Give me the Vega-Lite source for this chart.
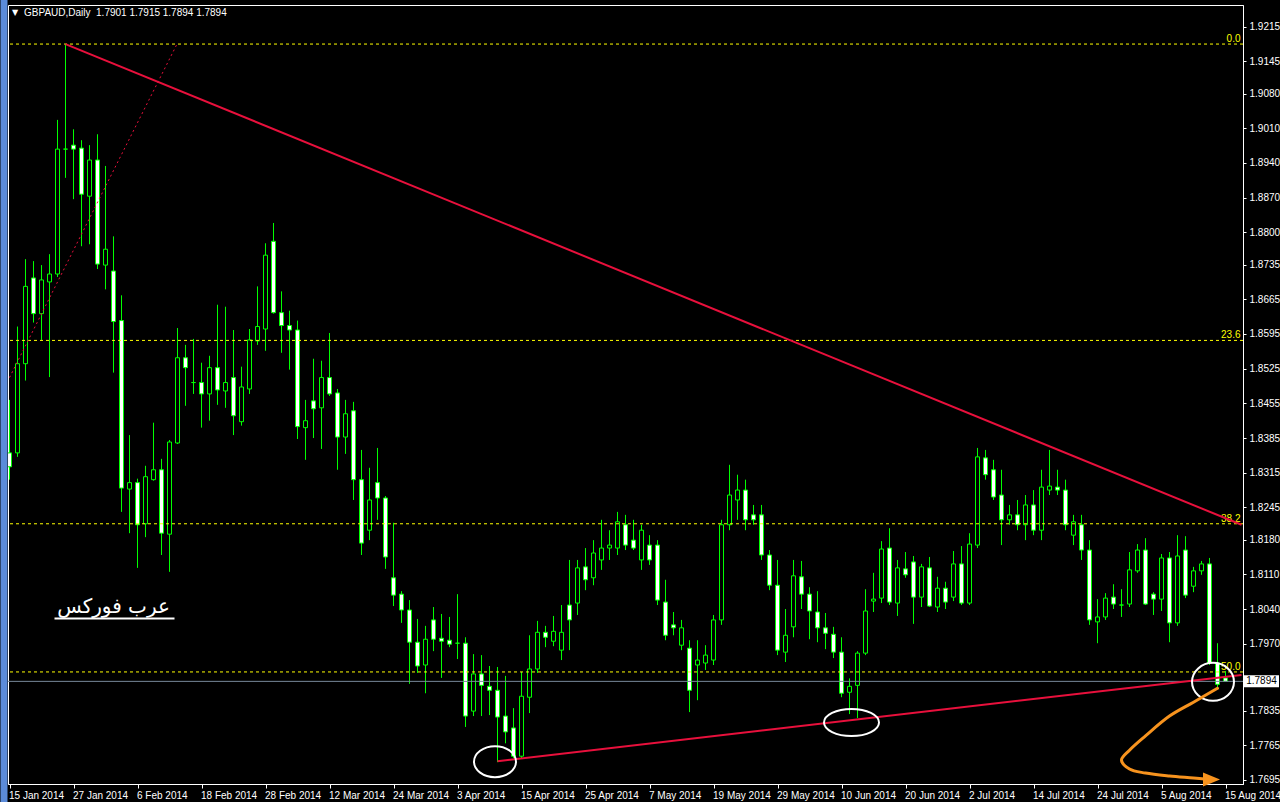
{
"$schema":"https://vega.github.io/schema/vega-lite/v6.json",
"width":1235,"height":779,
"autosize":{"type":"none"},
"padding":{"left":8,"top":5,"right":37,"bottom":18},
"background":"#000000",
"config":{"view":{"stroke":"#ffffff","strokeWidth":1,"fill":"#000000"},"font":"Liberation Sans",
"axis":{"labelFont":"Liberation Sans","labelFontSize":10,"labelColor":"#ffffff","tickColor":"#ffffff","domainColor":"#ffffff","grid":false,"title":null,"labelOverlap":false}},
"data":{"values":[
{"d":"15 Jan 2014","o":1.8355,"h":1.8462,"l":1.8301,"c":1.8327},
{"d":"16 Jan 2014","o":1.8355,"h":1.8610,"l":1.8347,"c":1.8535},
{"d":"17 Jan 2014","o":1.8535,"h":1.8746,"l":1.8501,"c":1.8691},
{"d":"20 Jan 2014","o":1.8708,"h":1.8742,"l":1.8618,"c":1.8636},
{"d":"21 Jan 2014","o":1.8636,"h":1.8734,"l":1.8583,"c":1.8704},
{"d":"22 Jan 2014","o":1.8700,"h":1.8756,"l":1.8508,"c":1.8716},
{"d":"23 Jan 2014","o":1.8716,"h":1.9027,"l":1.8710,"c":1.8968},
{"d":"24 Jan 2014","o":1.8968,"h":1.9180,"l":1.8910,"c":1.8968},
{"d":"27 Jan 2014","o":1.8976,"h":1.9008,"l":1.8867,"c":1.8968},
{"d":"28 Jan 2014","o":1.8970,"h":1.8986,"l":1.8772,"c":1.8877},
{"d":"29 Jan 2014","o":1.8873,"h":1.8976,"l":1.8776,"c":1.8946},
{"d":"30 Jan 2014","o":1.8946,"h":1.8998,"l":1.8726,"c":1.8736},
{"d":"31 Jan 2014","o":1.8734,"h":1.8934,"l":1.8685,"c":1.8766},
{"d":"3 Feb 2014","o":1.8722,"h":1.8792,"l":1.8517,"c":1.8620},
{"d":"4 Feb 2014","o":1.8622,"h":1.8673,"l":1.8236,"c":1.8284},
{"d":"5 Feb 2014","o":1.8282,"h":1.8391,"l":1.8193,"c":1.8295},
{"d":"6 Feb 2014","o":1.8295,"h":1.8303,"l":1.8123,"c":1.8210},
{"d":"7 Feb 2014","o":1.8212,"h":1.8329,"l":1.8185,"c":1.8307},
{"d":"10 Feb 2014","o":1.8301,"h":1.8416,"l":1.8299,"c":1.8321},
{"d":"11 Feb 2014","o":1.8321,"h":1.8343,"l":1.8149,"c":1.8193},
{"d":"12 Feb 2014","o":1.8191,"h":1.8381,"l":1.8115,"c":1.8377},
{"d":"13 Feb 2014","o":1.8375,"h":1.8607,"l":1.8373,"c":1.8547},
{"d":"14 Feb 2014","o":1.8547,"h":1.8573,"l":1.8450,"c":1.8527},
{"d":"17 Feb 2014","o":1.8497,"h":1.8585,"l":1.8474,"c":1.8497},
{"d":"18 Feb 2014","o":1.8497,"h":1.8537,"l":1.8406,"c":1.8474},
{"d":"19 Feb 2014","o":1.8474,"h":1.8551,"l":1.8420,"c":1.8527},
{"d":"20 Feb 2014","o":1.8527,"h":1.8654,"l":1.8452,"c":1.8482},
{"d":"21 Feb 2014","o":1.8480,"h":1.8650,"l":1.8446,"c":1.8497},
{"d":"24 Feb 2014","o":1.8507,"h":1.8603,"l":1.8391,"c":1.8430},
{"d":"25 Feb 2014","o":1.8418,"h":1.8529,"l":1.8410,"c":1.8488},
{"d":"26 Feb 2014","o":1.8484,"h":1.8605,"l":1.8474,"c":1.8583},
{"d":"27 Feb 2014","o":1.8581,"h":1.8691,"l":1.8573,"c":1.8610},
{"d":"28 Feb 2014","o":1.8605,"h":1.8778,"l":1.8561,"c":1.8754},
{"d":"3 Mar 2014","o":1.8782,"h":1.8819,"l":1.8636,"c":1.8638},
{"d":"4 Mar 2014","o":1.8638,"h":1.8681,"l":1.8557,"c":1.8612},
{"d":"5 Mar 2014","o":1.8612,"h":1.8642,"l":1.8523,"c":1.8603},
{"d":"6 Mar 2014","o":1.8603,"h":1.8622,"l":1.8383,"c":1.8408},
{"d":"7 Mar 2014","o":1.8406,"h":1.8462,"l":1.8341,"c":1.8420},
{"d":"10 Mar 2014","o":1.8460,"h":1.8545,"l":1.8385,"c":1.8444},
{"d":"11 Mar 2014","o":1.8446,"h":1.8541,"l":1.8363,"c":1.8507},
{"d":"12 Mar 2014","o":1.8507,"h":1.8597,"l":1.8470,"c":1.8474},
{"d":"13 Mar 2014","o":1.8476,"h":1.8484,"l":1.8321,"c":1.8387},
{"d":"14 Mar 2014","o":1.8387,"h":1.8462,"l":1.8353,"c":1.8434},
{"d":"17 Mar 2014","o":1.8440,"h":1.8458,"l":1.8260,"c":1.8301},
{"d":"18 Mar 2014","o":1.8301,"h":1.8361,"l":1.8149,"c":1.8173},
{"d":"19 Mar 2014","o":1.8199,"h":1.8325,"l":1.8179,"c":1.8260},
{"d":"20 Mar 2014","o":1.8295,"h":1.8365,"l":1.8220,"c":1.8264},
{"d":"21 Mar 2014","o":1.8264,"h":1.8268,"l":1.8121,"c":1.8145},
{"d":"24 Mar 2014","o":1.8103,"h":1.8214,"l":1.8046,"c":1.8068},
{"d":"25 Mar 2014","o":1.8070,"h":1.8076,"l":1.8012,"c":1.8038},
{"d":"26 Mar 2014","o":1.8038,"h":1.8058,"l":1.7889,"c":1.7973},
{"d":"27 Mar 2014","o":1.7973,"h":1.8020,"l":1.7911,"c":1.7925},
{"d":"28 Mar 2014","o":1.7927,"h":1.8006,"l":1.7870,"c":1.7979},
{"d":"31 Mar 2014","o":1.8018,"h":1.8044,"l":1.7955,"c":1.7979},
{"d":"1 Apr 2014","o":1.7981,"h":1.8030,"l":1.7901,"c":1.7975},
{"d":"2 Apr 2014","o":1.7977,"h":1.8024,"l":1.7963,"c":1.7969},
{"d":"3 Apr 2014","o":1.7971,"h":1.8070,"l":1.7939,"c":1.7971},
{"d":"4 Apr 2014","o":1.7971,"h":1.7983,"l":1.7802,"c":1.7824},
{"d":"7 Apr 2014","o":1.7834,"h":1.7949,"l":1.7824,"c":1.7909},
{"d":"8 Apr 2014","o":1.7909,"h":1.7947,"l":1.7824,"c":1.7886},
{"d":"9 Apr 2014","o":1.7884,"h":1.7925,"l":1.7826,"c":1.7876},
{"d":"10 Apr 2014","o":1.7876,"h":1.7923,"l":1.7731,"c":1.7822},
{"d":"11 Apr 2014","o":1.7824,"h":1.7905,"l":1.7769,"c":1.7792},
{"d":"14 Apr 2014","o":1.7800,"h":1.7840,"l":1.7739,"c":1.7743},
{"d":"15 Apr 2014","o":1.7743,"h":1.7913,"l":1.7739,"c":1.7864},
{"d":"16 Apr 2014","o":1.7862,"h":1.7987,"l":1.7830,"c":1.7919},
{"d":"17 Apr 2014","o":1.7919,"h":1.8016,"l":1.7911,"c":1.7993},
{"d":"18 Apr 2014","o":1.7993,"h":1.8006,"l":1.7963,"c":1.7983},
{"d":"21 Apr 2014","o":1.7975,"h":1.8026,"l":1.7965,"c":1.7995},
{"d":"22 Apr 2014","o":1.7957,"h":1.8048,"l":1.7937,"c":1.7993},
{"d":"23 Apr 2014","o":1.8048,"h":1.8139,"l":1.7957,"c":1.8018},
{"d":"24 Apr 2014","o":1.8052,"h":1.8139,"l":1.8028,"c":1.8123},
{"d":"25 Apr 2014","o":1.8125,"h":1.8163,"l":1.8078,"c":1.8099},
{"d":"28 Apr 2014","o":1.8103,"h":1.8179,"l":1.8088,"c":1.8153},
{"d":"29 Apr 2014","o":1.8139,"h":1.8220,"l":1.8119,"c":1.8163},
{"d":"30 Apr 2014","o":1.8163,"h":1.8199,"l":1.8139,"c":1.8169},
{"d":"1 May 2014","o":1.8163,"h":1.8236,"l":1.8149,"c":1.8216},
{"d":"2 May 2014","o":1.8210,"h":1.8230,"l":1.8159,"c":1.8169},
{"d":"5 May 2014","o":1.8179,"h":1.8220,"l":1.8159,"c":1.8163},
{"d":"6 May 2014","o":1.8139,"h":1.8210,"l":1.8119,"c":1.8199},
{"d":"7 May 2014","o":1.8169,"h":1.8189,"l":1.8129,"c":1.8139},
{"d":"8 May 2014","o":1.8169,"h":1.8179,"l":1.8048,"c":1.8058},
{"d":"9 May 2014","o":1.8054,"h":1.8099,"l":1.7977,"c":1.7987},
{"d":"12 May 2014","o":1.8008,"h":1.8034,"l":1.7987,"c":1.8002},
{"d":"13 May 2014","o":1.7967,"h":1.8018,"l":1.7957,"c":1.8002},
{"d":"14 May 2014","o":1.7961,"h":1.7977,"l":1.7832,"c":1.7876},
{"d":"15 May 2014","o":1.7927,"h":1.7977,"l":1.7856,"c":1.7937},
{"d":"16 May 2014","o":1.7931,"h":1.7967,"l":1.7917,"c":1.7947},
{"d":"19 May 2014","o":1.7937,"h":1.8028,"l":1.7927,"c":1.8018},
{"d":"20 May 2014","o":1.8018,"h":1.8220,"l":1.8008,"c":1.8210},
{"d":"21 May 2014","o":1.8210,"h":1.8331,"l":1.8199,"c":1.8270},
{"d":"22 May 2014","o":1.8260,"h":1.8311,"l":1.8220,"c":1.8280},
{"d":"23 May 2014","o":1.8280,"h":1.8301,"l":1.8199,"c":1.8220},
{"d":"26 May 2014","o":1.8230,"h":1.8250,"l":1.8210,"c":1.8220},
{"d":"27 May 2014","o":1.8230,"h":1.8250,"l":1.8139,"c":1.8149},
{"d":"28 May 2014","o":1.8149,"h":1.8159,"l":1.8078,"c":1.8088},
{"d":"29 May 2014","o":1.8088,"h":1.8139,"l":1.7947,"c":1.7957},
{"d":"30 May 2014","o":1.7953,"h":1.8040,"l":1.7933,"c":1.7987},
{"d":"2 Jun 2014","o":1.8004,"h":1.8139,"l":1.7983,"c":1.8107},
{"d":"3 Jun 2014","o":1.8105,"h":1.8137,"l":1.8040,"c":1.8070},
{"d":"4 Jun 2014","o":1.8070,"h":1.8084,"l":1.7979,"c":1.8036},
{"d":"5 Jun 2014","o":1.8034,"h":1.8076,"l":1.7973,"c":1.8002},
{"d":"6 Jun 2014","o":1.8002,"h":1.8032,"l":1.7959,"c":1.7991},
{"d":"9 Jun 2014","o":1.7989,"h":1.8004,"l":1.7941,"c":1.7953},
{"d":"10 Jun 2014","o":1.7953,"h":1.7983,"l":1.7862,"c":1.7870},
{"d":"11 Jun 2014","o":1.7872,"h":1.7900,"l":1.7828,"c":1.7884},
{"d":"12 Jun 2014","o":1.7886,"h":1.7955,"l":1.7820,"c":1.7951},
{"d":"13 Jun 2014","o":1.7951,"h":1.8080,"l":1.7947,"c":1.8036},
{"d":"16 Jun 2014","o":1.8056,"h":1.8113,"l":1.8034,"c":1.8060},
{"d":"17 Jun 2014","o":1.8062,"h":1.8177,"l":1.8052,"c":1.8161},
{"d":"18 Jun 2014","o":1.8163,"h":1.8203,"l":1.8048,"c":1.8054},
{"d":"19 Jun 2014","o":1.8052,"h":1.8139,"l":1.8026,"c":1.8123},
{"d":"20 Jun 2014","o":1.8121,"h":1.8155,"l":1.8103,"c":1.8109},
{"d":"23 Jun 2014","o":1.8135,"h":1.8147,"l":1.8010,"c":1.8064},
{"d":"24 Jun 2014","o":1.8064,"h":1.8131,"l":1.8044,"c":1.8125},
{"d":"25 Jun 2014","o":1.8123,"h":1.8145,"l":1.8044,"c":1.8046},
{"d":"26 Jun 2014","o":1.8044,"h":1.8105,"l":1.8034,"c":1.8082},
{"d":"27 Jun 2014","o":1.8082,"h":1.8095,"l":1.8040,"c":1.8054},
{"d":"30 Jun 2014","o":1.8064,"h":1.8157,"l":1.8056,"c":1.8131},
{"d":"1 Jul 2014","o":1.8131,"h":1.8167,"l":1.8048,"c":1.8052},
{"d":"2 Jul 2014","o":1.8052,"h":1.8193,"l":1.8048,"c":1.8171},
{"d":"3 Jul 2014","o":1.8169,"h":1.8365,"l":1.8163,"c":1.8347},
{"d":"4 Jul 2014","o":1.8345,"h":1.8361,"l":1.8301,"c":1.8311},
{"d":"7 Jul 2014","o":1.8321,"h":1.8341,"l":1.8260,"c":1.8266},
{"d":"8 Jul 2014","o":1.8270,"h":1.8321,"l":1.8169,"c":1.8220},
{"d":"9 Jul 2014","o":1.8220,"h":1.8250,"l":1.8210,"c":1.8230},
{"d":"10 Jul 2014","o":1.8230,"h":1.8260,"l":1.8199,"c":1.8210},
{"d":"11 Jul 2014","o":1.8210,"h":1.8270,"l":1.8179,"c":1.8250},
{"d":"14 Jul 2014","o":1.8250,"h":1.8280,"l":1.8189,"c":1.8199},
{"d":"15 Jul 2014","o":1.8199,"h":1.8321,"l":1.8179,"c":1.8286},
{"d":"16 Jul 2014","o":1.8280,"h":1.8361,"l":1.8270,"c":1.8288},
{"d":"17 Jul 2014","o":1.8286,"h":1.8321,"l":1.8270,"c":1.8280},
{"d":"18 Jul 2014","o":1.8280,"h":1.8301,"l":1.8199,"c":1.8210},
{"d":"21 Jul 2014","o":1.8189,"h":1.8230,"l":1.8169,"c":1.8216},
{"d":"22 Jul 2014","o":1.8210,"h":1.8230,"l":1.8139,"c":1.8159},
{"d":"23 Jul 2014","o":1.8159,"h":1.8179,"l":1.8008,"c":1.8018},
{"d":"24 Jul 2014","o":1.8014,"h":1.8060,"l":1.7971,"c":1.8024},
{"d":"25 Jul 2014","o":1.8024,"h":1.8072,"l":1.8018,"c":1.8062},
{"d":"28 Jul 2014","o":1.8064,"h":1.8090,"l":1.8040,"c":1.8050},
{"d":"29 Jul 2014","o":1.8048,"h":1.8080,"l":1.8024,"c":1.8048},
{"d":"30 Jul 2014","o":1.8050,"h":1.8155,"l":1.8044,"c":1.8119},
{"d":"31 Jul 2014","o":1.8117,"h":1.8171,"l":1.8113,"c":1.8159},
{"d":"1 Aug 2014","o":1.8159,"h":1.8183,"l":1.8048,"c":1.8050},
{"d":"4 Aug 2014","o":1.8070,"h":1.8074,"l":1.8028,"c":1.8060},
{"d":"5 Aug 2014","o":1.8060,"h":1.8151,"l":1.8036,"c":1.8143},
{"d":"6 Aug 2014","o":1.8143,"h":1.8155,"l":1.7973,"c":1.8012},
{"d":"7 Aug 2014","o":1.8012,"h":1.8189,"l":1.8006,"c":1.8147},
{"d":"8 Aug 2014","o":1.8159,"h":1.8187,"l":1.8062,"c":1.8068},
{"d":"11 Aug 2014","o":1.8086,"h":1.8125,"l":1.8074,"c":1.8117},
{"d":"12 Aug 2014","o":1.8117,"h":1.8137,"l":1.8109,"c":1.8131},
{"d":"13 Aug 2014","o":1.8131,"h":1.8143,"l":1.7927,"c":1.7931},
{"d":"14 Aug 2014","o":1.7931,"h":1.7971,"l":1.7880,"c":1.7888},
{"d":"15 Aug 2014","o":1.7901,"h":1.7915,"l":1.7894,"c":1.7894}
]},
"layer":[
{"mark":{"type":"rule","color":"#00ff00","strokeWidth":1,"clip":true},
 "encoding":{
  "x":{"field":"d","type":"ordinal","scale":{"type":"point","padding":0.1875,"domain":["15 Jan 2014","16 Jan 2014","17 Jan 2014","20 Jan 2014","21 Jan 2014","22 Jan 2014","23 Jan 2014","24 Jan 2014","27 Jan 2014","28 Jan 2014","29 Jan 2014","30 Jan 2014","31 Jan 2014","3 Feb 2014","4 Feb 2014","5 Feb 2014","6 Feb 2014","7 Feb 2014","10 Feb 2014","11 Feb 2014","12 Feb 2014","13 Feb 2014","14 Feb 2014","17 Feb 2014","18 Feb 2014","19 Feb 2014","20 Feb 2014","21 Feb 2014","24 Feb 2014","25 Feb 2014","26 Feb 2014","27 Feb 2014","28 Feb 2014","3 Mar 2014","4 Mar 2014","5 Mar 2014","6 Mar 2014","7 Mar 2014","10 Mar 2014","11 Mar 2014","12 Mar 2014","13 Mar 2014","14 Mar 2014","17 Mar 2014","18 Mar 2014","19 Mar 2014","20 Mar 2014","21 Mar 2014","24 Mar 2014","25 Mar 2014","26 Mar 2014","27 Mar 2014","28 Mar 2014","31 Mar 2014","1 Apr 2014","2 Apr 2014","3 Apr 2014","4 Apr 2014","7 Apr 2014","8 Apr 2014","9 Apr 2014","10 Apr 2014","11 Apr 2014","14 Apr 2014","15 Apr 2014","16 Apr 2014","17 Apr 2014","18 Apr 2014","21 Apr 2014","22 Apr 2014","23 Apr 2014","24 Apr 2014","25 Apr 2014","28 Apr 2014","29 Apr 2014","30 Apr 2014","1 May 2014","2 May 2014","5 May 2014","6 May 2014","7 May 2014","8 May 2014","9 May 2014","12 May 2014","13 May 2014","14 May 2014","15 May 2014","16 May 2014","19 May 2014","20 May 2014","21 May 2014","22 May 2014","23 May 2014","26 May 2014","27 May 2014","28 May 2014","29 May 2014","30 May 2014","2 Jun 2014","3 Jun 2014","4 Jun 2014","5 Jun 2014","6 Jun 2014","9 Jun 2014","10 Jun 2014","11 Jun 2014","12 Jun 2014","13 Jun 2014","16 Jun 2014","17 Jun 2014","18 Jun 2014","19 Jun 2014","20 Jun 2014","23 Jun 2014","24 Jun 2014","25 Jun 2014","26 Jun 2014","27 Jun 2014","30 Jun 2014","1 Jul 2014","2 Jul 2014","3 Jul 2014","4 Jul 2014","7 Jul 2014","8 Jul 2014","9 Jul 2014","10 Jul 2014","11 Jul 2014","14 Jul 2014","15 Jul 2014","16 Jul 2014","17 Jul 2014","18 Jul 2014","21 Jul 2014","22 Jul 2014","23 Jul 2014","24 Jul 2014","25 Jul 2014","28 Jul 2014","29 Jul 2014","30 Jul 2014","31 Jul 2014","1 Aug 2014","4 Aug 2014","5 Aug 2014","6 Aug 2014","7 Aug 2014","8 Aug 2014","11 Aug 2014","12 Aug 2014","13 Aug 2014","14 Aug 2014","15 Aug 2014","18 Aug 2014","19 Aug 2014"]},
   "axis":{"values":["15 Jan 2014","27 Jan 2014","6 Feb 2014","18 Feb 2014","28 Feb 2014","12 Mar 2014","24 Mar 2014","3 Apr 2014","15 Apr 2014","25 Apr 2014","7 May 2014","19 May 2014","29 May 2014","10 Jun 2014","20 Jun 2014","2 Jul 2014","14 Jul 2014","24 Jul 2014","5 Aug 2014","15 Aug 2014"],"labelAlign":"left","labelAngle":0,"labelOffset":-1,"tickSize":4,"labelPadding":2,"labelOverlap":false,"labelFlush":false,"labelBound":false,"title":null}},
  "y":{"field":"l","type":"quantitative","scale":{"type":"linear","domain":[1.76869,1.92588],"nice":false,"zero":false},
   "axis":{"orient":"right","values":[1.9215,1.9145,1.908,1.901,1.894,1.887,1.88,1.8735,1.8665,1.8595,1.8525,1.8455,1.8385,1.8315,1.8245,1.818,1.811,1.804,1.797,1.7835,1.7765,1.7695],"tickCount":60,"format":".4f","tickSize":3,"labelPadding":3,"labelOverlap":false,"labelFlush":false,"labelBound":false,"title":null}},
  "y2":{"field":"h"}}},
{"mark":{"type":"bar","width":4,"stroke":"#00ff00","strokeWidth":1,"clip":true},
 "encoding":{"x":{"field":"d","type":"ordinal"},"y":{"field":"o","type":"quantitative"},"y2":{"field":"c"},
  "fill":{"condition":{"test":"datum.c < datum.o","value":"#ffffff"},"value":"#000000"}}},
{"data":{"values":[{"lvl":"0.0","p":1.918},{"lvl":"23.6","p":1.8582},{"lvl":"38.2","p":1.8212},{"lvl":"50.0","p":1.7913}]},
 "mark":{"type":"rule","color":"#ffff00","strokeDash":[3,3],"strokeWidth":1},
 "encoding":{"y":{"field":"p","type":"quantitative"}}},
{"data":{"values":[{"lvl":"0.0","p":1.918},{"lvl":"23.6","p":1.8582},{"lvl":"38.2","p":1.8212},{"lvl":"50.0","p":1.7913}]},
 "mark":{"type":"text","color":"#ffff00","align":"right","baseline":"alphabetic","dy":-2,"dx":-1,"fontSize":10,"font":"Liberation Sans"},
 "encoding":{"x":{"datum":"19 Aug 2014","type":"ordinal"},"y":{"field":"p","type":"quantitative"},"text":{"field":"lvl"}}},
{"data":{"values":[{"p":1.7894}]},
 "mark":{"type":"rule","color":"#778899","strokeWidth":1},
 "encoding":{"y":{"field":"p","type":"quantitative"}}},
{"data":{"values":[{"id":"down","d":"24 Jan 2014","p":1.918},{"id":"down","d":"19 Aug 2014","p":1.821},{"id":"up","d":"10 Apr 2014","p":1.7733},{"id":"up","d":"19 Aug 2014","p":1.7907}]},
 "mark":{"type":"line","color":"#e8103c","strokeWidth":2},
 "encoding":{"x":{"field":"d","type":"ordinal"},"y":{"field":"p","type":"quantitative"},"detail":{"field":"id"}}},
{"data":{"values":[{"d":"15 Jan 2014","p":1.8507},{"d":"13 Feb 2014","p":1.9182}]},
 "mark":{"type":"line","color":"#e8103c","strokeWidth":1,"strokeDash":[2,3]},
 "encoding":{"x":{"field":"d","type":"ordinal"},"y":{"field":"p","type":"quantitative"}}},
{"data":{"values":[{"d":"10 Apr 2014","p":1.7732}]},
 "mark":{"type":"point","shape":"M-1.119,0A1,0.738,0,1,0,0.881,0A1,0.738,0,1,0,-1.119,0Z","size":1764,"filled":false,"stroke":"#ffffff","strokeWidth":2,"opacity":1},
 "encoding":{"x":{"field":"d","type":"ordinal"},"y":{"field":"p","type":"quantitative"}}},
{"data":{"values":[{"d":"11 Jun 2014","p":1.7811}]},
 "mark":{"type":"point","shape":"M-0.927,0A1,0.491,0,1,0,1.073,0A1,0.491,0,1,0,-0.927,0Z","size":3025,"filled":false,"stroke":"#ffffff","strokeWidth":2,"opacity":1},
 "encoding":{"x":{"field":"d","type":"ordinal"},"y":{"field":"p","type":"quantitative"}}},
{"data":{"values":[{"d":"13 Aug 2014","p":1.7893}]},
 "mark":{"type":"point","shape":"M-0.833,0A1,0.905,0,1,0,1.167,0A1,0.905,0,1,0,-0.833,0Z","size":1764,"filled":false,"stroke":"#ffffff","strokeWidth":2,"opacity":1},
 "encoding":{"x":{"field":"d","type":"ordinal"},"y":{"field":"p","type":"quantitative"}}},
{"data":{"values":[{"n":1,"d":"14 Aug 2014","p":1.7880},{"n":2,"d":"11 Aug 2014","p":1.7852},{"n":3,"d":"6 Aug 2014","p":1.7824},{"n":4,"d":"1 Aug 2014","p":1.7784},{"n":5,"d":"30 Jul 2014","p":1.7755},{"n":6,"d":"29 Jul 2014","p":1.7735},{"n":7,"d":"30 Jul 2014","p":1.7717},{"n":8,"d":"1 Aug 2014","p":1.7709},{"n":9,"d":"6 Aug 2014","p":1.7703},{"n":10,"d":"11 Aug 2014","p":1.7699},{"n":11,"d":"13 Aug 2014","p":1.7696}]},
 "mark":{"type":"line","color":"#f7931e","strokeWidth":3,"interpolate":"catmull-rom","strokeCap":"round"},
 "encoding":{"x":{"field":"d","type":"ordinal"},"y":{"field":"p","type":"quantitative"},"order":{"field":"n","type":"quantitative"}}},
{"data":{"values":[{"d":"13 Aug 2014","p":1.7696}]},
 "mark":{"type":"point","shape":"M-0.65,-0.7L1.05,0L-0.65,0.7Z","size":400,"filled":true,"color":"#f7931e","opacity":1},
 "encoding":{"x":{"field":"d","type":"ordinal"},"y":{"field":"p","type":"quantitative"}}},
{"data":{"values":[{"t":"عرب فوركس","d":"3 Feb 2014","p":1.8032}]},
 "mark":{"type":"text","color":"#ffffff","fontSize":20,"font":"DejaVu Sans","align":"center","baseline":"alphabetic"},
 "encoding":{"x":{"field":"d","type":"ordinal"},"y":{"field":"p","type":"quantitative"},"text":{"field":"t"}}},
{"data":{"values":[{"d":"23 Jan 2014","d2":"13 Feb 2014","p":1.8021}]},
 "mark":{"type":"rule","color":"#ffffff","strokeWidth":2,"xOffset":-3,"x2Offset":-3},
 "encoding":{"x":{"field":"d","type":"ordinal"},"x2":{"field":"d2"},"y":{"field":"p","type":"quantitative"}}},
{"data":{"values":[{"t":"▼","d":"16 Jan 2014","p":1.92427}]},
 "mark":{"type":"text","color":"#ffffff","fontSize":8,"font":"DejaVu Sans","align":"center","baseline":"middle","dx":-2.5},
 "encoding":{"x":{"field":"d","type":"ordinal"},"y":{"field":"p","type":"quantitative"},"text":{"field":"t"}}},
{"data":{"values":[{"t":"GBPAUD,Daily\u00a0\u00a01.7901 1.7915 1.7894 1.7894","d":"17 Jan 2014","p":1.92356}]},
 "mark":{"type":"text","color":"#ffffff","fontSize":10,"font":"Liberation Sans","align":"left","baseline":"alphabetic","dx":-1.5},
 "encoding":{"x":{"field":"d","type":"ordinal"},"y":{"field":"p","type":"quantitative"},"text":{"field":"t"}}},
{"data":{"values":[{"d":"15 Jan 2014","p1":1.92689,"p2":1.76506}]},
 "mark":{"type":"rule","color":"#5b8bd9","strokeWidth":7,"xOffset":-5.5,"clip":false},
 "encoding":{"x":{"field":"d","type":"ordinal"},"y":{"field":"p1","type":"quantitative"},"y2":{"field":"p2"}}},
{"data":{"values":[{"d":"19 Aug 2014","p":1.7894,"t":"1.7894"}]},
 "mark":{"type":"point","shape":"M-1,-0.343L1,-0.343L1,0.343L-1,0.343Z","size":1225,"filled":true,"color":"#ffffff","opacity":1,"xOffset":20},
 "encoding":{"x":{"field":"d","type":"ordinal"},"y":{"field":"p","type":"quantitative"}}},
{"data":{"values":[{"d":"19 Aug 2014","p":1.7894,"t":"1.7894"}]},
 "mark":{"type":"text","color":"#000000","fontSize":10,"font":"Liberation Sans","align":"center","baseline":"middle","xOffset":20},
 "encoding":{"x":{"field":"d","type":"ordinal"},"y":{"field":"p","type":"quantitative"},"text":{"field":"t"}}}
]
}
